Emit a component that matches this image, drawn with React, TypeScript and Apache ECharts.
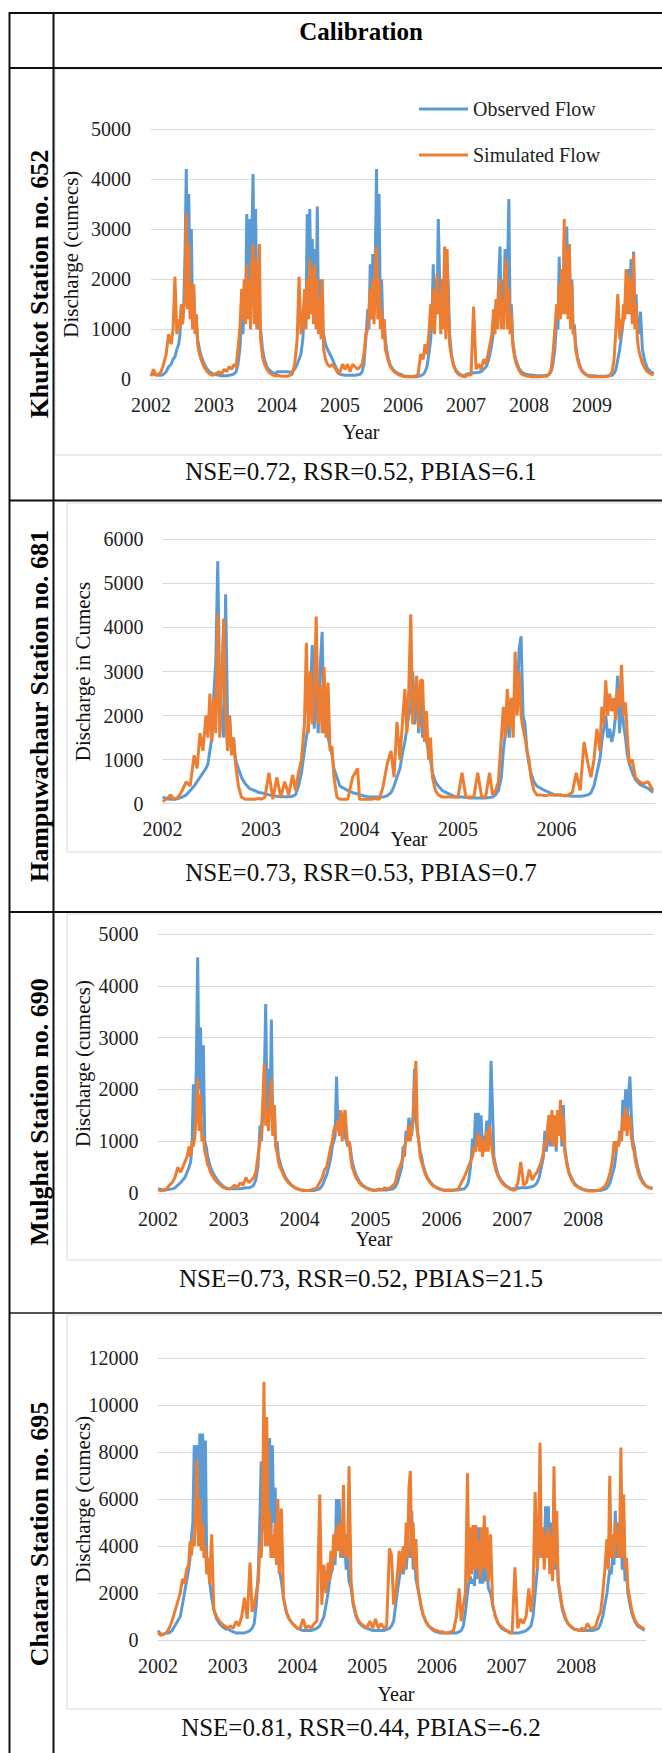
import React, { useEffect, useRef } from "react";
import * as echarts from "echarts";

// Shared within-year sampling offsets (fraction of the year)
const OFFSETS = [0.0, 0.04, 0.08, 0.12, 0.16, 0.2, 0.24, 0.28, 0.32, 0.35, 0.38, 0.41, 0.44, 0.46, 0.48, 0.5, 0.52, 0.54, 0.56, 0.58, 0.6, 0.62, 0.64, 0.66, 0.68, 0.7, 0.72, 0.74, 0.77, 0.8, 0.84, 0.88, 0.93, 0.98];

// ---- Khurkot Station no. 652 ----
const K652_YEARS = [2002, 2003, 2004, 2005, 2006, 2007, 2008, 2009];
const K652_OBS = [
  [120, 100, 90, 80, 80, 100, 150, 250, 300, 400, 450, 600, 700, 900, 1400, 1100, 1500, 2500, 4200, 1800, 3700, 1500, 3000, 1200, 1700, 1000, 1100, 800, 600, 450, 320, 220, 150, 110],
  [100, 90, 80, 70, 70, 70, 80, 90, 110, 150, 300, 600, 1200, 900, 1600, 1200, 3300, 1400, 3200, 1500, 2800, 4100, 1600, 3400, 1300, 2000, 1000, 1000, 600, 400, 250, 180, 130, 110],
  [150, 150, 150, 150, 150, 140, 150, 200, 300, 400, 500, 800, 1500, 1200, 3300, 1800, 3400, 1600, 2800, 1400, 2600, 1200, 3450, 1100, 2000, 900, 1000, 900, 700, 600, 500, 400, 250, 130],
  [100, 90, 80, 80, 80, 80, 80, 90, 100, 150, 300, 800, 1400, 1000, 2300, 1200, 2500, 1300, 2400, 4200, 1600, 3700, 1300, 2000, 1000, 1200, 800, 600, 400, 280, 200, 150, 110, 90],
  [70, 60, 60, 50, 50, 50, 60, 70, 100, 150, 250, 500, 800, 1200, 2300, 1100, 2000, 1300, 3200, 2100, 1200, 2000, 1100, 2400, 1000, 2300, 1800, 900, 500, 300, 180, 120, 80, 60],
  [100, 110, 120, 130, 130, 140, 150, 200, 250, 350, 500, 700, 1000, 1200, 1600, 1300, 2000, 2650, 1200, 2000, 1500, 2600, 1400, 2200, 3600, 1200, 1500, 800, 500, 350, 220, 150, 110, 90],
  [90, 80, 80, 70, 70, 70, 70, 80, 100, 150, 300, 600, 1200, 1000, 2450, 1300, 2000, 1500, 2800, 1500, 3050, 1400, 2700, 1200, 2000, 1000, 1100, 700, 450, 300, 180, 120, 80, 70],
  [70, 70, 60, 60, 60, 60, 60, 70, 80, 120, 200, 400, 600, 800, 1000, 1200, 1400, 1800, 1500, 2200, 1400, 2400, 1300, 2550, 1200, 1700, 1000, 900, 1350, 600, 350, 220, 150, 120],
];
const K652_SIM = [
  [60, 200, 80, 100, 150, 300, 500, 900, 700, 1000, 2050, 900, 1200, 1000, 1500, 1100, 1400, 1600, 3300, 1400, 2700, 1200, 1900, 1000, 1900, 900, 1300, 700, 500, 380, 250, 170, 110, 80],
  [100, 120, 150, 100, 200, 150, 250, 200, 300, 250, 600, 1000, 1800, 1200, 2000, 1100, 2300, 1200, 2000, 1000, 2300, 2700, 1100, 2400, 1000, 1600, 2700, 800, 450, 300, 200, 130, 90, 70],
  [80, 70, 60, 60, 60, 80, 100, 300, 800, 2050, 900, 1200, 1800, 1000, 2000, 1200, 2400, 1300, 2200, 1100, 2300, 1000, 2000, 900, 1600, 800, 2000, 600, 400, 300, 250, 300, 200, 100],
  [150, 300, 200, 300, 150, 300, 250, 200, 250, 300, 500, 900, 1000, 1400, 1800, 1200, 2000, 1100, 2100, 2650, 1200, 2000, 1000, 1400, 800, 1200, 600, 500, 350, 250, 180, 130, 90, 70],
  [60, 50, 50, 50, 60, 60, 100, 500, 400, 700, 500, 900, 1500, 1000, 1800, 900, 1600, 2100, 1300, 1700, 900, 2000, 1000, 2650, 800, 2600, 1400, 700, 450, 280, 160, 100, 70, 50],
  [60, 100, 80, 1450, 200, 300, 200, 400, 300, 500, 700, 900, 1400, 900, 1600, 1000, 1800, 2000, 1000, 1600, 1000, 2000, 2400, 1000, 1800, 900, 1300, 700, 450, 300, 180, 110, 80, 60],
  [60, 50, 50, 50, 50, 50, 60, 60, 100, 200, 500, 1000, 1500, 1200, 1900, 1200, 2200, 1300, 3200, 1300, 2600, 1200, 2700, 1000, 1900, 900, 1000, 600, 400, 260, 160, 110, 70, 50],
  [50, 50, 50, 50, 50, 50, 60, 80, 150, 400, 1000, 1700, 800, 1200, 1000, 1500, 1200, 2200, 1300, 2100, 1300, 2000, 1100, 2500, 1000, 1500, 800, 600, 450, 320, 220, 150, 110, 90],
];

// ---- Hampuwachaur Station no. 681 ----
const H681_YEARS = [2002, 2003, 2004, 2005, 2006];
const H681_OBS = [
  [150, 120, 100, 100, 120, 150, 200, 300, 400, 500, 600, 700, 800, 900, 1200, 1500, 2500, 3200, 5500, 2500, 2000, 1500, 4750, 1800, 2000, 1200, 1500, 1000, 800, 600, 450, 350, 300, 250],
  [250, 220, 200, 180, 170, 160, 160, 160, 170, 200, 400, 700, 1200, 1500, 1800, 2500, 3600, 1700, 3000, 1600, 3100, 3900, 1600, 2500, 1500, 1300, 1100, 800, 600, 400, 350, 300, 250, 220],
  [200, 180, 160, 150, 150, 150, 150, 180, 250, 400, 600, 800, 1200, 1400, 1700, 2000, 2200, 3000, 1800, 2800, 1600, 2600, 1500, 2000, 1400, 1200, 1000, 700, 500, 400, 300, 250, 200, 150],
  [150, 150, 140, 130, 130, 130, 130, 130, 140, 150, 200, 300, 600, 1200, 1600, 1900, 1500, 2300, 1800, 2500, 2200, 3500, 3800, 2000, 1800, 1200, 900, 700, 500, 400, 350, 300, 250, 200],
  [200, 200, 180, 180, 170, 170, 170, 180, 200, 250, 400, 700, 1000, 1400, 1700, 2000, 1500, 1700, 1400, 1600, 2000, 2900, 1600, 2400, 1800, 1500, 1100, 900, 700, 550, 450, 400, 350, 250],
];
const H681_SIM = [
  [50, 100, 200, 100, 150, 300, 500, 400, 1100, 800, 1600, 1200, 2000, 1500, 2500, 1400, 2400, 1600, 4300, 1500, 2800, 4200, 2000, 1200, 2000, 1100, 1500, 900, 400, 150, 100, 100, 100, 120],
  [100, 150, 700, 100, 600, 150, 500, 200, 650, 300, 700, 1000, 1800, 3650, 1600, 3000, 1800, 2500, 4250, 1800, 2700, 1600, 3100, 1500, 2750, 1200, 1300, 600, 150, 100, 100, 100, 600, 800],
  [100, 100, 100, 100, 120, 100, 400, 900, 1200, 600, 1850, 1000, 2000, 2600, 1600, 2600, 4300, 1800, 2400, 2900, 1700, 2800, 2800, 1400, 2100, 1000, 1500, 600, 300, 200, 150, 150, 150, 150],
  [150, 700, 150, 150, 150, 700, 150, 150, 700, 200, 300, 500, 1500, 2200, 1500, 2600, 1700, 2400, 1500, 3450, 2000, 3000, 2000, 1700, 1500, 1200, 1000, 600, 300, 200, 200, 180, 200, 200],
  [200, 200, 180, 200, 250, 700, 300, 1400, 900, 600, 1000, 1700, 1200, 2200, 1800, 2800, 2000, 2500, 2100, 2400, 1900, 2600, 2200, 3150, 2000, 2300, 1500, 900, 1000, 600, 500, 450, 500, 300],
];

// ---- Mulghat Station no. 690 ----
const M690_YEARS = [2002, 2003, 2004, 2005, 2006, 2007, 2008];
const M690_OBS = [
  [80, 70, 60, 60, 70, 80, 100, 150, 200, 250, 300, 400, 500, 600, 900, 2100, 1200, 2400, 4550, 2000, 3200, 1500, 2850, 1000, 900, 700, 600, 500, 400, 330, 250, 180, 120, 90],
  [80, 80, 80, 80, 80, 90, 100, 100, 120, 150, 250, 500, 1300, 1000, 1600, 2200, 3650, 1500, 2400, 1500, 3350, 1200, 1700, 900, 1000, 700, 600, 500, 400, 300, 220, 160, 110, 80],
  [70, 60, 50, 50, 50, 50, 60, 80, 150, 250, 350, 500, 700, 900, 1000, 1100, 2250, 1200, 1600, 1400, 1200, 1500, 1100, 1000, 900, 1000, 800, 600, 450, 330, 230, 160, 110, 80],
  [70, 60, 60, 60, 60, 60, 60, 70, 80, 120, 200, 350, 500, 900, 700, 1200, 1000, 1450, 1300, 1100, 1500, 2400, 1400, 1200, 1000, 800, 700, 550, 400, 300, 220, 150, 110, 80],
  [70, 60, 60, 60, 60, 60, 60, 70, 80, 120, 200, 500, 1050, 800, 1550, 1000, 1550, 900, 1500, 800, 1100, 1000, 1400, 900, 1300, 2550, 1700, 700, 500, 350, 250, 180, 120, 80],
  [80, 80, 90, 100, 100, 100, 110, 120, 150, 200, 300, 500, 700, 1200, 800, 1000, 1500, 900, 1500, 1100, 1400, 800, 1600, 1200, 1700, 900, 1700, 900, 600, 400, 280, 180, 120, 90],
  [70, 60, 50, 50, 50, 50, 50, 60, 80, 120, 200, 350, 500, 700, 1000, 900, 1200, 1000, 1800, 1400, 2000, 1300, 1900, 2250, 1500, 1000, 900, 700, 500, 350, 230, 150, 100, 100],
];
const M690_SIM = [
  [60, 50, 50, 80, 150, 200, 300, 500, 400, 500, 600, 700, 900, 700, 1000, 900, 1100, 1500, 2200, 1200, 1900, 1000, 1100, 800, 700, 550, 500, 400, 330, 260, 200, 150, 100, 80],
  [80, 100, 150, 100, 200, 150, 300, 200, 250, 300, 400, 700, 1000, 1200, 1800, 2500, 1300, 1600, 1200, 1800, 2200, 1100, 1700, 900, 800, 600, 500, 450, 350, 270, 200, 150, 100, 70],
  [60, 50, 50, 50, 60, 80, 100, 200, 300, 450, 500, 700, 900, 1000, 1200, 1300, 1200, 1400, 1100, 1600, 1000, 1500, 1600, 1200, 900, 1000, 700, 500, 380, 280, 200, 140, 100, 70],
  [60, 50, 50, 80, 60, 100, 80, 100, 150, 200, 400, 500, 600, 700, 900, 1000, 1100, 1300, 1000, 1200, 1400, 2000, 2550, 1200, 1000, 700, 600, 500, 380, 280, 200, 140, 100, 70],
  [60, 50, 50, 50, 50, 60, 80, 200, 300, 400, 500, 600, 700, 900, 800, 1000, 1150, 800, 1100, 700, 1000, 800, 1200, 800, 1300, 1000, 800, 600, 430, 320, 230, 160, 110, 70],
  [60, 60, 200, 600, 150, 200, 450, 250, 350, 400, 500, 600, 800, 1000, 900, 1300, 1500, 1000, 1600, 900, 1500, 900, 1600, 1100, 1800, 1000, 1500, 800, 550, 380, 250, 160, 110, 80],
  [60, 50, 40, 40, 40, 50, 60, 100, 150, 250, 400, 600, 1000, 800, 1000, 900, 1200, 1000, 1500, 1200, 1650, 1100, 1500, 1400, 1100, 900, 800, 600, 430, 300, 200, 140, 100, 80],
];

// ---- Chatara Station no. 695 ----
const C695_YEARS = [2002, 2003, 2004, 2005, 2006, 2007, 2008];
const C695_OBS = [
  [400, 250, 250, 300, 300, 400, 600, 800, 1000, 1500, 2000, 2500, 3000, 3500, 4400, 5000, 8300, 6000, 8300, 5000, 8800, 4500, 8800, 4000, 8500, 3000, 3500, 2500, 1800, 1300, 900, 700, 550, 450],
  [500, 400, 350, 300, 300, 300, 300, 350, 400, 500, 700, 1500, 3000, 5000, 7600, 6000, 5000, 4500, 8600, 5000, 8600, 4000, 8300, 5000, 6500, 4000, 5500, 3000, 2500, 1800, 1200, 900, 700, 550],
  [500, 450, 400, 400, 400, 400, 450, 500, 600, 800, 1000, 1500, 2000, 2500, 2800, 3000, 3500, 3200, 6000, 4500, 6000, 3500, 4800, 3500, 4000, 3000, 3500, 2500, 2200, 1500, 1000, 750, 600, 500],
  [500, 450, 400, 400, 400, 400, 400, 450, 500, 600, 800, 1500, 2200, 2600, 3000, 3500, 2800, 3500, 3000, 3800, 4000, 3500, 5500, 3000, 3500, 2600, 2300, 2000, 1500, 1100, 800, 600, 450, 350],
  [350, 300, 300, 300, 300, 300, 300, 300, 350, 400, 600, 1200, 2000, 2500, 2700, 2400, 2600, 2300, 4000, 2600, 4800, 2400, 4500, 2400, 4500, 2500, 2800, 2200, 2000, 1500, 1000, 700, 500, 400],
  [400, 350, 300, 300, 300, 320, 350, 400, 500, 600, 1000, 2000, 3000, 4000, 4500, 3500, 4500, 3500, 5700, 4000, 5700, 3000, 5000, 2800, 6000, 3000, 4000, 2500, 1800, 1300, 900, 700, 550, 450],
  [450, 400, 400, 400, 400, 400, 400, 450, 500, 700, 1000, 1500, 2000, 2500, 3000, 2800, 3500, 3200, 5500, 3500, 5000, 3500, 4500, 3000, 4000, 2500, 3000, 2000, 1500, 1100, 800, 600, 500, 400],
];
const C695_SIM = [
  [300, 200, 250, 300, 500, 800, 1200, 1600, 2000, 2600, 2400, 3000, 3200, 4200, 3600, 4300, 4000, 5500, 7700, 4000, 6000, 3800, 5000, 3500, 4000, 2800, 3500, 2400, 4500, 1300, 1000, 800, 650, 550],
  [500, 600, 500, 800, 600, 1000, 1800, 900, 3300, 1200, 1500, 2000, 2500, 4000, 3500, 5500, 11000, 4000, 9500, 4000, 5500, 3500, 4500, 3500, 5000, 3200, 6000, 2800, 5600, 1800, 1200, 900, 700, 550],
  [500, 500, 900, 500, 600, 500, 700, 800, 6200, 1500, 3200, 2000, 3300, 2500, 3800, 3000, 4500, 3500, 4800, 3800, 5000, 3600, 4200, 6600, 3500, 4500, 3500, 7400, 2500, 1600, 1100, 800, 650, 550],
  [550, 800, 500, 900, 500, 700, 500, 600, 3900, 3600, 1500, 2000, 3000, 3800, 2800, 3600, 4000, 3000, 5000, 3500, 6500, 7200, 3500, 5000, 3000, 4300, 2500, 2000, 1500, 1100, 800, 600, 500, 400],
  [400, 350, 350, 300, 300, 350, 400, 1000, 2200, 800, 1500, 2000, 7100, 2500, 4800, 2800, 4900, 3000, 4900, 3000, 4200, 2600, 4800, 3000, 5300, 3000, 4800, 2500, 4500, 1500, 1000, 700, 550, 450],
  [400, 300, 300, 3100, 500, 900, 700, 1000, 2200, 1200, 2000, 6300, 3000, 4500, 8400, 3500, 4800, 3000, 4500, 3500, 4800, 2800, 4500, 2500, 7400, 3200, 5500, 2500, 2000, 1400, 1000, 700, 550, 450],
  [450, 400, 500, 400, 700, 500, 500, 600, 1000, 1200, 2000, 3000, 4300, 3000, 7000, 3500, 4500, 3500, 5000, 4500, 4000, 3500, 8200, 3500, 6200, 3000, 3500, 2200, 1700, 1200, 850, 650, 550, 450],
];

// ---- Texts ----
const HEADER = "Calibration";
const STATIONS = ["Khurkot Station no. 652", "Hampuwachaur Station no. 681", "Mulghat Station no. 690", "Chatara Station no. 695"];
const Y_TITLES = ["Discharge (cumecs)", "Discharge in Cumecs", "Discharge (cumecs)", "Discharge (cumecs)"];
const X_TITLE = "Year";
const STATS = ["NSE=0.72, RSR=0.52, PBIAS=6.1", "NSE=0.73, RSR=0.53, PBIAS=0.7", "NSE=0.73, RSR=0.52, PBIAS=21.5", "NSE=0.81, RSR=0.44, PBIAS=-6.2"];
const SERIES_NAMES = ["Observed Flow", "Simulated Flow"];
const X_RANGES = [[2002, 2010], [2002, 2007], [2002, 2009], [2002, 2009]];
const Y_MAX = [5000, 6000, 5000, 12000];
const Y_STEP = [1000, 1000, 1000, 2000];

const BLUE = "#5B9BD5";
const ORANGE = "#ED7D31";
const GRIDC = "#d9d9d9";
const FONT = "Liberation Serif, Times New Roman, serif";

// layout (pixels)
const LAYOUT = [
  { grid: { left: 151, top: 129, width: 504, height: 250.3 }, yMargin: 20, xMargin: 16, yearX: 361, yearY: 432, titleX: 71, statY: 471, stationY: 284, box: [55, 69, 620, 386] },
  { grid: { left: 162.6, top: 539.3, width: 492.4, height: 264.4 }, yMargin: 19, xMargin: 15.5, yearX: 409, yearY: 839, titleX: 83, statY: 872, stationY: 706, box: [67, 503, 610, 349] },
  { grid: { left: 158, top: 934, width: 496, height: 259 }, yMargin: 19.5, xMargin: 16, yearX: 374, yearY: 1239, titleX: 83, statY: 1278, stationY: 1112, box: [67, 914, 610, 346] },
  { grid: { left: 158, top: 1358.3, width: 488, height: 281.7 }, yMargin: 19.5, xMargin: 15.5, yearX: 396, yearY: 1694, titleX: 83, statY: 1727, stationY: 1534, box: [67, 1315, 610, 394] },
];

function buildSeries(years: number[], perYear: number[][]): number[][] {
  const out: number[][] = [];
  years.forEach((y, k) => {
    perYear[k].forEach((v, i) => out.push([y + OFFSETS[i], v]));
  });
  return out;
}

const DATASETS = [
  [buildSeries(K652_YEARS, K652_OBS), buildSeries(K652_YEARS, K652_SIM)],
  [buildSeries(H681_YEARS, H681_OBS), buildSeries(H681_YEARS, H681_SIM)],
  [buildSeries(M690_YEARS, M690_OBS), buildSeries(M690_YEARS, M690_SIM)],
  [buildSeries(C695_YEARS, C695_OBS), buildSeries(C695_YEARS, C695_SIM)],
];

function txt(x: number, y: number, text: string, size: number, opts: any = {}) {
  return {
    type: "text",
    x,
    y,
    rotation: opts.rotation || 0,
    silent: true,
    style: {
      text,
      fontSize: size,
      fontFamily: FONT,
      fontWeight: opts.bold ? "bold" : "normal",
      fill: opts.color || "#111",
      align: "center",
      verticalAlign: "middle",
      textAlign: "center",
      textVerticalAlign: "middle",
    },
  };
}

function line(x1: number, y1: number, x2: number, y2: number, color = "#111", w = 2) {
  return { type: "line", silent: true, shape: { x1, y1, x2, y2 }, style: { stroke: color, lineWidth: w } };
}

export default function App() {
  const ref = useRef<HTMLDivElement>(null);
  useEffect(() => {
    if (!ref.current) return;
    const chart = echarts.init(ref.current, undefined, { renderer: "svg" });

    const grids = LAYOUT.map((l) => ({ ...l.grid, containLabel: false }));
    const xAxes = LAYOUT.map((l, k) => ({
      type: "value",
      gridIndex: k,
      min: X_RANGES[k][0],
      max: X_RANGES[k][1],
      interval: 1,
      axisLine: { show: true, lineStyle: { color: GRIDC, width: 1 } },
      axisTick: { show: false },
      splitLine: { show: false },
      axisLabel: {
        show: true,
        showMaxLabel: false,
        margin: l.xMargin,
        fontSize: 20,
        fontFamily: FONT,
        color: "#222",
        formatter: (v: number) => String(Math.round(v)),
      },
    }));
    const yAxes = LAYOUT.map((l, k) => ({
      type: "value",
      gridIndex: k,
      min: 0,
      max: Y_MAX[k],
      interval: Y_STEP[k],
      axisLine: { show: false },
      axisTick: { show: false },
      splitLine: { show: true, lineStyle: { color: GRIDC, width: 1 } },
      axisLabel: {
        margin: l.yMargin,
        fontSize: 20,
        fontFamily: FONT,
        color: "#222",
        formatter: (v: number) => String(Math.round(v)),
      },
    }));

    const series: any[] = [];
    DATASETS.forEach((pair, k) => {
      pair.forEach((data, j) => {
        series.push({
          type: "line",
          name: SERIES_NAMES[j],
          xAxisIndex: k,
          yAxisIndex: k,
          data,
          showSymbol: false,
          symbol: "none",
          silent: true,
          z: 2 + j,
          lineStyle: { width: 3, color: j === 0 ? BLUE : ORANGE },
          itemStyle: { color: j === 0 ? BLUE : ORANGE },
        });
      });
    });

    const graphics: any[] = [];
    LAYOUT.forEach((l) => {
      graphics.push({
        type: "rect",
        silent: true,
        shape: { x: l.box[0], y: l.box[1], width: l.box[2], height: l.box[3] },
        style: { fill: "none", stroke: GRIDC, lineWidth: 1 },
      });
    });
    graphics.push(line(9, 13, 670, 13));
    graphics.push(line(9, 68, 670, 68));
    graphics.push(line(9, 500.5, 670, 500.5));
    graphics.push(line(9, 912, 670, 912));
    graphics.push(line(9, 1313, 670, 1313, "#555"));
    graphics.push(line(9.5, 12, 9.5, 1760));
    graphics.push(line(53.5, 12, 53.5, 1760));
    graphics.push(txt(361, 31, HEADER, 25, { bold: true, color: "#000" }));
    LAYOUT.forEach((l, k) => {
      graphics.push(txt(39, l.stationY, STATIONS[k], 26, { bold: true, rotation: Math.PI / 2, color: "#000" }));
      graphics.push(txt(l.titleX, l.grid.top + l.grid.height / 2, Y_TITLES[k], 21, { rotation: Math.PI / 2 }));
      graphics.push(txt(l.yearX, l.yearY, X_TITLE, 20));
      graphics.push(txt(361, l.statY, STATS[k], 25));
    });

    chart.setOption({
      animation: false,
      backgroundColor: "#fff",
      grid: grids,
      xAxis: xAxes,
      yAxis: yAxes,
      legend: {
        show: true,
        data: SERIES_NAMES,
        orient: "vertical",
        left: 414,
        top: 94,
        itemWidth: 49,
        itemHeight: 3,
        itemGap: 26,
        icon: "rect",
        selectedMode: false,
        textStyle: { fontSize: 20, fontFamily: FONT, color: "#222" },
      },
      series,
      graphic: { elements: graphics },
    });
    return () => chart.dispose();
  }, []);

  return (
    <div
      ref={ref}
      style={{ position: "absolute", left: 0, top: 0, width: 662, height: 1753, background: "#fff" }}
    />
  );
}
